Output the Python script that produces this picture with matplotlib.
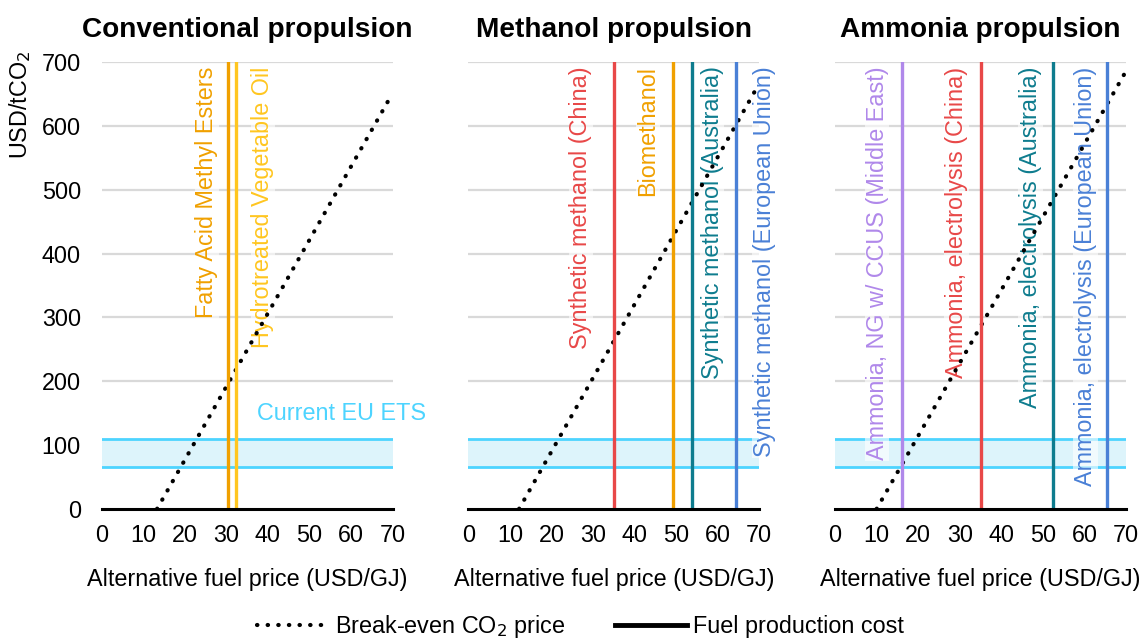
import matplotlib.pyplot as plt
from matplotlib.lines import Line2D

plt.rcParams['font.family'] = ['Liberation Sans', 'DejaVu Sans']

# Datos
titles = ['Conventional propulsion', 'Methanol propulsion', 'Ammonia propulsion']

conv_breakeven_x = [13.3, 69.0]
conv_breakeven_y = [0, 640]
meth_breakeven_x = [12.2, 69.0]
meth_breakeven_y = [0, 655]
amm_breakeven_x = [10.0, 69.5]
amm_breakeven_y = [0, 680]

conv_fuels = ['Fatty Acid Methyl Esters', 'Hydrotreated Vegetable Oil']
conv_costs = [30.5, 32.4]
meth_fuels = ['Synthetic methanol (China)', 'Biomethanol',
              'Synthetic methanol (Australia)', 'Synthetic methanol (European Union)']
meth_costs = [35.1, 49.3, 53.7, 64.3]
amm_fuels = ['Ammonia, NG w/ CCUS (Middle East)', 'Ammonia, electrolysis (China)',
             'Ammonia, electrolysis (Australia)', 'Ammonia, electrolysis (European Union)']
amm_costs = [16.0, 35.1, 52.4, 65.4]

ets_low, ets_high = 65, 110
y_ticks = [0, 100, 200, 300, 400, 500, 600, 700]
x_ticks = [0, 10, 20, 30, 40, 50, 60, 70]

# Estilo (colores y lado de la etiqueta, desplazamiento en px)
conv_colors = ['#F0A000', '#FFC620']
meth_colors = ['#E84848', '#F0A000', '#0E7C8E', '#4A80D6']
amm_colors = ['#B088EA', '#E84848', '#0E7C8E', '#4A80D6']
conv_offsets = [-10, 15]
meth_offsets = [-22, -14, 9, 17]
amm_offsets = [-13, -13, -11, -10]

ets_line = '#4DD4FF'
ets_fill = '#DDF4FB'
fs = 16.8
dotted = (0, (0.1, 2.45))

fig = plt.figure(figsize=(11.48, 6.43), dpi=100)
W, H = 1148, 643
lefts = [101.7, 468.3, 835.0]
width = 291.0
bottom, top = 509.0, 62.0

panels = [
    (conv_breakeven_x, conv_breakeven_y, conv_fuels, conv_costs, conv_colors, conv_offsets),
    (meth_breakeven_x, meth_breakeven_y, meth_fuels, meth_costs, meth_colors, meth_offsets),
    (amm_breakeven_x, amm_breakeven_y, amm_fuels, amm_costs, amm_colors, amm_offsets),
]

for i, (bx, by, fuels, costs, colors, offsets) in enumerate(panels):
    ax = fig.add_axes([lefts[i] / W, 1 - bottom / H, width / W, (bottom - top) / H])
    ax.set_xlim(0, 70)
    ax.set_ylim(0, 700)

    # Rejilla horizontal
    for yv in y_ticks[1:]:
        ax.axhline(yv, color='#D9D9D9', lw=1.6, zorder=0.5)

    # Banda del EU ETS actual
    ax.axhspan(ets_low, ets_high, color=ets_fill, lw=0, zorder=1)
    ax.axhline(ets_low, color=ets_line, lw=2.0, zorder=1.2)
    ax.axhline(ets_high, color=ets_line, lw=2.0, zorder=1.2)

    # Precio de equilibrio del CO2
    ax.plot(bx, by, color='black', lw=3.0, linestyle=dotted,
            dash_capstyle='round', zorder=3, clip_on=False)

    # Costes de produccion de combustible
    for name, c, col, off in zip(fuels, costs, colors, offsets):
        ax.axvline(c, color=col, lw=2.4, zorder=4)
        ax.annotate(name, xy=(c, 693), xytext=(off * 0.72, 0),
                    textcoords='offset points', rotation=90,
                    ha='right' if off < 0 else 'left', va='top',
                    color=col, fontsize=fs, zorder=2.5,
                    bbox=dict(facecolor='white', edgecolor='none', alpha=0.6, pad=0.5))

    for s in ['left', 'right', 'top']:
        ax.spines[s].set_visible(False)
    ax.spines['bottom'].set_linewidth(2.2)
    ax.spines['bottom'].set_zorder(5)

    ax.set_xticks(x_ticks)
    ax.set_yticks(y_ticks)
    ax.tick_params(length=0, labelsize=fs)
    ax.tick_params(axis='x', pad=11)
    ax.tick_params(axis='y', pad=15)
    if i > 0:
        ax.set_yticklabels([])
    ax.set_xlabel('Alternative fuel price (USD/GJ)', fontsize=fs, labelpad=15)
    ax.set_title(titles[i], fontsize=20.2, fontweight='bold', pad=18)

    if i == 0:
        ax.text(37.4, 150, 'Current EU ETS', color=ets_line, fontsize=fs,
                ha='left', va='center', clip_on=False)

fig.text(20 / W, 1 - 50 / H, 'USD/tCO$_2$', rotation=90, ha='center', va='top', fontsize=fs)

handles = [
    Line2D([], [], color='black', lw=3.0, linestyle=dotted, dash_capstyle='round'),
    Line2D([], [], color='black', lw=3.5),
]
fig.legend(handles, ['Break-even CO$_2$ price', 'Fuel production cost'],
           loc='center', bbox_to_anchor=(0.5057, 0.026), ncol=2, frameon=False,
           fontsize=fs, handlelength=3.1, handletextpad=0.25, columnspacing=2.1,
           borderpad=0.1)

fig.savefig('out.png', dpi=100)
